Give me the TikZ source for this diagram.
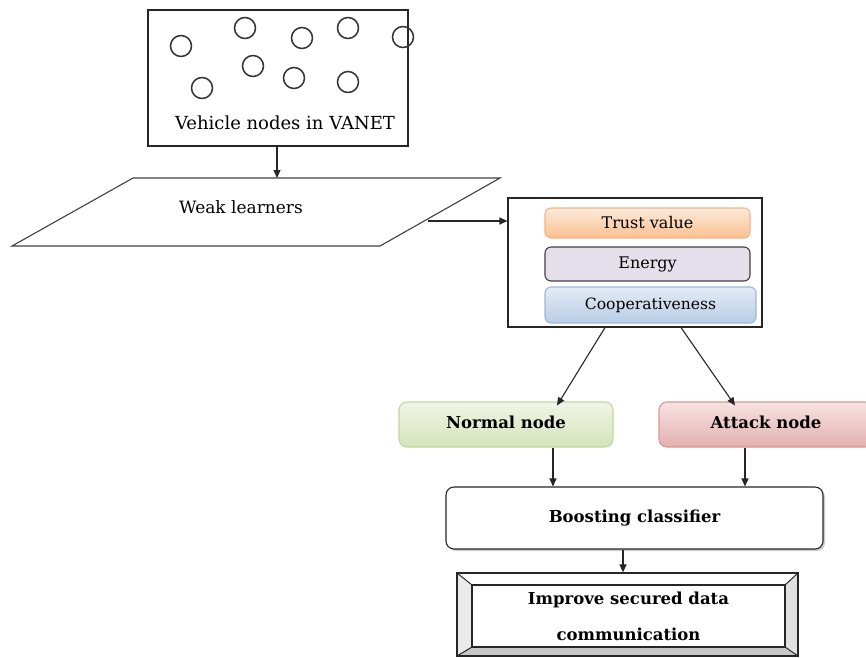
\documentclass[tikz,border=0pt]{standalone}
\usepackage{fontspec}
\setmainfont{DejaVu Serif}
\usetikzlibrary{arrows.meta,shadows,calc}
\definecolor{tvtop}{HTML}{FDEADA}\definecolor{tvbot}{HTML}{FAC090}\definecolor{tvline}{HTML}{F2B48A}
\definecolor{entop}{HTML}{E5DFEC}\definecolor{enline}{HTML}{404040}
\definecolor{cotop}{HTML}{E3EBF5}\definecolor{cobot}{HTML}{B9CDE5}\definecolor{coline}{HTML}{9DB8DA}
\definecolor{nntop}{HTML}{F0F5E6}\definecolor{nnbot}{HTML}{D5E3BA}\definecolor{nnline}{HTML}{C3D69B}
\definecolor{antop}{HTML}{F6E3E2}\definecolor{anbot}{HTML}{E3B0AF}\definecolor{anline}{HTML}{D99694}
\tikzset{
  arr/.style={-{Triangle[length=8pt,width=7pt]},line width=1.1pt,black!85},
  box/.style={draw=black!85,line width=1.1pt},
  veh/.style={draw=black!80,line width=1.5pt,circle,minimum size=21pt,inner sep=0pt},
  feat/.style={rounded corners=6pt,line width=1.1pt,inner sep=0pt,font=\fontsize{16}{18}\selectfont},
  cls/.style={rounded corners=8pt,line width=1.1pt,inner sep=0pt,font=\bfseries\fontsize{16.5}{19}\selectfont},
  lbl/.style={inner sep=0pt}
}
\begin{document}
\begin{tikzpicture}[x=1pt,y=-1pt]
\useasboundingbox (0,0) rectangle (866,657);
% top box
\node[box,minimum width=260pt,minimum height=136pt,inner sep=0pt] (veh) at (278,78) {};
\foreach \n/\x/\y in {a/181/46,b/245/28,c/302/38,d/348/28,e/403/37,f/202/88,g/253/66,h/294/78,i/348/82}
  \node[veh] (c\n) at (\x,\y) {};
\node[lbl,font=\fontsize{18}{20}\selectfont] (vehtxt) at (285,123) {Vehicle nodes in VANET};
% parallelogram
\draw[line width=1.1pt,black!75] (133,178) coordinate (p1) -- (500,178) coordinate (p2) -- (380,246) coordinate (p3) -- (12,246) coordinate (p4) -- cycle;
\node[lbl,font=\fontsize{17}{19}\selectfont] (weak) at (241,207) {Weak learners};
\coordinate (wk) at (428,221);
\draw[arr] (veh.south -| 277,0) -- (277,178);
% container
\node[box,minimum width=254pt,minimum height=129pt,inner sep=0pt] (cont) at (635,262.5) {};
\draw[arr] (wk) -- (wk -| cont.west);
\node[feat,draw=tvline,top color=tvtop,bottom color=tvbot,minimum width=205pt,minimum height=30pt] (trust) at (647.5,223) {Trust value};
\node[feat,draw=enline,fill=entop,minimum width=205pt,minimum height=34pt] (energy) at (647.5,264) {Energy};
\node[feat,draw=coline,top color=cotop,bottom color=cobot,minimum width=211pt,minimum height=36pt,font=\fontsize{15.6}{18}\selectfont] (coop) at (650.5,305) {Cooperativeness};
% classes
\node[cls,draw=nnline,top color=nntop,bottom color=nnbot,minimum width=214pt,minimum height=45pt] (normal) at (506,424.5) {\raisebox{4pt}{Normal node}};
\node[cls,draw=anline,top color=antop,bottom color=anbot,minimum width=214pt,minimum height=45pt] (attack) at (766,424.5) {\raisebox{4pt}{Attack node}};
\draw[arr] ([xshift=-30pt]cont.south) -- ([xshift=51pt,yshift=-4pt]normal.north);
\draw[arr] ([xshift=46pt]cont.south) -- ([xshift=-31pt,yshift=-4pt]attack.north);
% boosting
\node[cls,draw=black!85,fill=white,drop shadow={shadow xshift=2pt,shadow yshift=-2pt,opacity=0.4},minimum width=377pt,minimum height=62pt] (boost) at (634.5,518) {Boosting classifier};
\draw[arr] (normal.south -| 553,0) -- (boost.north -| 553,0);
\draw[arr] (attack.south -| 745,0) -- (boost.north -| 745,0);
% improve box
\coordinate (o1) at (457,573); \coordinate (o2) at (798,573); \coordinate (o3) at (798,656); \coordinate (o4) at (457,656);
\coordinate (i1) at (472,585); \coordinate (i2) at (785,585); \coordinate (i3) at (785,647); \coordinate (i4) at (472,647);
\fill[white] (o1) -- (o2) -- (i2) -- (i1) -- cycle;
\fill[black!8] (o1) -- (i1) -- (i4) -- (o4) -- cycle;
\fill[black!22] (o4) -- (i4) -- (i3) -- (o3) -- cycle;
\fill[black!12] (o2) -- (o3) -- (i3) -- (i2) -- cycle;
\draw[line width=1pt,black!85] (o1) -- (i1) (o2) -- (i2) (o3) -- (i3) (o4) -- (i4);
\node[draw=black!85,line width=1.3pt,minimum width=341pt,minimum height=83pt,inner sep=0pt] (impout) at (627.5,614.5) {};
\node[draw=black!85,line width=1.3pt,minimum width=313pt,minimum height=62pt,inner sep=0pt,align=center,font=\bfseries\fontsize{16.5}{36}\selectfont] (imp) at (628.5,616) {Improve secured data\\communication};
\draw[arr] (boost.south -| 623,0) -- (impout.north -| 623,0);
\end{tikzpicture}
\end{document}
